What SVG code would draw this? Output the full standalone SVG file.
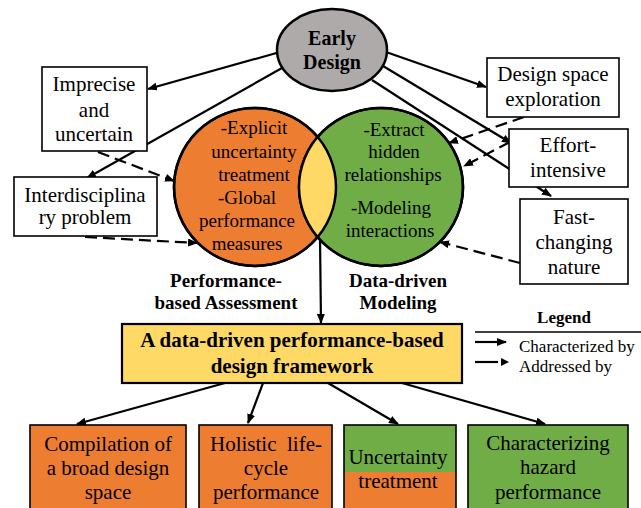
<svg xmlns="http://www.w3.org/2000/svg" width="641" height="508" viewBox="0 0 641 508" font-family="'Liberation Serif', 'Times New Roman', Times, serif">
  <defs>
    <marker id="arrow" viewBox="0 0 10 8" refX="9" refY="4" markerWidth="10" markerHeight="8" markerUnits="userSpaceOnUse" orient="auto">
      <path d="M0,0 L10,4 L0,8 Z" fill="#000"/>
    </marker>
    <style>
      svg text { font-family: 'Liberation Serif', 'Times New Roman', Times, serif; fill: #000; }
      .t21 { font-size: 21px; text-anchor: middle; }
      .t19 { font-size: 19px; text-anchor: middle; }
      .b { font-weight: bold; }
      .box { fill: #fff; stroke: #000; stroke-width: 1.6; }
      .orange { fill: #ED7D31; }
      .green { fill: #70AD47; }
      .edge { stroke: #000; stroke-width: 2.2; fill: none; marker-end: url(#arrow); }
      .dash { stroke-dasharray: 12 6; }
    </style>
  </defs>
  <rect width="641" height="508" fill="#fff"/>

  <!-- connectors -->
  <g id="connectors">
    <!-- Early Design: characterized by -->
    <line class="edge" x1="280" y1="52" x2="148" y2="89"/>
    <line class="edge" x1="282" y1="68" x2="87" y2="178"/>
    <line class="edge" x1="386" y1="52" x2="486" y2="87"/>
    <line class="edge" x1="383" y1="66" x2="511" y2="143"/>
    <line class="edge" x1="372" y1="80" x2="551" y2="196"/>
    <!-- addressed by -->
    <line class="edge dash" x1="98" y1="152" x2="174" y2="181"/>
    <line class="edge dash" x1="85" y1="237" x2="197" y2="243"/>
    <line class="edge dash" x1="524" y1="117" x2="449" y2="143"/>
    <line class="edge dash" x1="510" y1="142" x2="464" y2="166"/>
    <line class="edge dash" x1="520" y1="263" x2="440" y2="242"/>
    <!-- overlap to framework -->
    <line class="edge" x1="320" y1="237" x2="321" y2="323"/>
    <!-- framework to outcomes -->
    <line class="edge" x1="225" y1="383" x2="77" y2="424"/>
    <line class="edge" x1="263" y1="383" x2="248" y2="423"/>
    <line class="edge" x1="328" y1="383" x2="398" y2="424"/>
    <line class="edge" x1="402" y1="383" x2="545" y2="424"/>
  </g>

  <!-- Early Design -->
  <g id="early-design">
    <ellipse cx="332" cy="50" rx="55" ry="41" fill="#AEAAAA" stroke="#000" stroke-width="2.5"/>
    <text class="t21 b" x="332" y="45" style="font-size:20px">Early</text>
    <text class="t21 b" x="332" y="69" style="font-size:20px">Design</text>
  </g>

  <!-- Venn: performance-based assessment / data-driven modeling -->
  <g id="performance-based-assessment">
    <ellipse cx="255" cy="187" rx="81" ry="79" class="orange" stroke="#000" stroke-width="2.5"/>
  </g>
  <g id="data-driven-modeling">
    <ellipse cx="381" cy="187" rx="82" ry="79" class="green" stroke="#000" stroke-width="2.5"/>
  </g>
  <g id="overlap">
    <clipPath id="clipOrange">
      <ellipse cx="255" cy="187" rx="81" ry="79"/>
    </clipPath>
    <ellipse cx="381" cy="187" rx="82" ry="79" fill="#FFD966" clip-path="url(#clipOrange)"/>
    <ellipse cx="255" cy="187" rx="81" ry="79" fill="none" stroke="#000" stroke-width="2.5"/>
    <ellipse cx="381" cy="187" rx="82" ry="79" fill="none" stroke="#000" stroke-width="2.5"/>
  </g>
  <g id="venn-text">
    <text class="t19" x="254" y="134">-Explicit</text>
    <text class="t19" x="254" y="158">uncertainty</text>
    <text class="t19" x="254" y="181">treatment</text>
    <text class="t19" x="247" y="204">-Global</text>
    <text class="t19" x="247" y="227">performance</text>
    <text class="t19" x="247" y="250">measures</text>
    <text class="t19" x="394" y="136">-Extract</text>
    <text class="t19" x="394" y="158">hidden</text>
    <text class="t19" x="393" y="181">relationships</text>
    <text class="t19" x="391" y="214">-Modeling</text>
    <text class="t19" x="390" y="237">interactions</text>
    <text class="t19 b" x="226" y="287">Performance-</text>
    <text class="t19 b" x="226" y="309">based Assessment</text>
    <text class="t19 b" x="398" y="287">Data-driven</text>
    <text class="t19 b" x="398" y="309">Modeling</text>
  </g>

  <!-- characteristics of early design -->
  <g id="imprecise">
    <rect class="box" x="42" y="67" width="105" height="84"/>
    <text class="t21" x="94" y="91">Imprecise</text>
    <text class="t21" x="94" y="117">and</text>
    <text class="t21" x="94" y="141">uncertain</text>
  </g>
  <g id="interdisciplinary">
    <rect class="box" x="14" y="177" width="143" height="59"/>
    <text class="t21" x="85" y="202">Interdisciplina</text>
    <text class="t21" x="85" y="224">ry problem</text>
  </g>
  <g id="design-space">
    <rect class="box" x="487" y="58" width="132" height="59"/>
    <text class="t21" x="553" y="81">Design space</text>
    <text class="t21" x="553" y="106">exploration</text>
  </g>
  <g id="effort">
    <rect class="box" x="509" y="129" width="119" height="58"/>
    <text class="t21" x="568" y="152">Effort-</text>
    <text class="t21" x="568" y="177">intensive</text>
  </g>
  <g id="fast-changing">
    <rect class="box" x="520" y="199" width="108" height="85"/>
    <text class="t21" x="574" y="224">Fast-</text>
    <text class="t21" x="574" y="249">changing</text>
    <text class="t21" x="574" y="274">nature</text>
  </g>

  <!-- framework -->
  <g id="framework">
    <rect x="122" y="324" width="340" height="59" fill="#FFD966" stroke="#000" stroke-width="2.2"/>
    <text class="t21 b" x="292" y="347">A data-driven performance-based</text>
    <text class="t21 b" x="292" y="373">design framework</text>
  </g>

  <!-- outcomes -->
  <g id="compilation">
    <rect x="30" y="425" width="156" height="90" class="orange" stroke="#000" stroke-width="1.6"/>
    <text class="t21" x="108" y="451">Compilation of</text>
    <text class="t21" x="108" y="475">a broad design</text>
    <text class="t21" x="108" y="499">space</text>
  </g>
  <g id="holistic">
    <rect x="199" y="425" width="133" height="90" class="orange" stroke="#000" stroke-width="1.6"/>
    <text class="t21" x="266" y="451" xml:space="preserve">Holistic  life-</text>
    <text class="t21" x="266" y="475">cycle</text>
    <text class="t21" x="266" y="499">performance</text>
  </g>
  <g id="uncertainty">
    <rect x="344" y="425" width="112" height="47" class="green"/>
    <rect x="344" y="472" width="112" height="43" class="orange"/>
    <rect x="344" y="425" width="112" height="90" fill="none" stroke="#000" stroke-width="1.6"/>
    <text class="t21" x="398" y="464">Uncertainty</text>
    <text class="t21" x="398" y="488">treatment</text>
  </g>
  <g id="hazard">
    <rect x="468" y="425" width="160" height="90" class="green" stroke="#000" stroke-width="1.6"/>
    <text class="t21" x="548" y="450">Characterizing</text>
    <text class="t21" x="548" y="474">hazard</text>
    <text class="t21" x="548" y="499">performance</text>
  </g>

  <!-- legend -->
  <g id="legend">
    <text class="b" x="564" y="323" text-anchor="middle" style="font-size:17px">Legend</text>
    <line x1="475" y1="332" x2="641" y2="332" stroke="#000" stroke-width="1.4"/>
    <line class="edge" x1="475" y1="342" x2="506" y2="342"/>
    <text x="519" y="352" style="font-size:17px">Characterized by</text>
    <line x1="475" y1="362" x2="498" y2="362" stroke="#000" stroke-width="2.2"/>
    <path d="M501,358 L509,362 L501,366 Z" fill="#000"/>
    <text x="519" y="372" style="font-size:17px">Addressed by</text>
  </g>
</svg>
